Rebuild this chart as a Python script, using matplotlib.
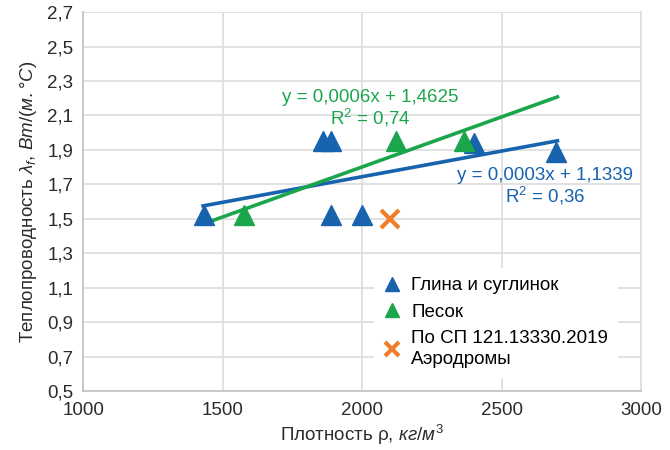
import numpy as np
import matplotlib
matplotlib.use("Agg")
import matplotlib.pyplot as plt

plt.rcParams['font.family'] = ['Liberation Sans', 'DejaVu Sans']
plt.rcParams['mathtext.fontset'] = 'custom'
plt.rcParams['mathtext.rm'] = 'Liberation Sans'
plt.rcParams['mathtext.it'] = 'Liberation Sans:italic'

# Данные
glina_x = [1435, 1860, 1890, 1890, 2000, 2400, 2695]
glina_y = [1.52, 1.95, 1.95, 1.52, 1.52, 1.94, 1.89]
pesok_x = [1575, 2120, 2365]
pesok_y = [1.52, 1.95, 1.95]
sp_x = [2100]
sp_y = [1.50]

# Линии тренда (концы, как на рисунке)
trend_glina_x = [1430, 2700]
trend_glina_y = [1.575, 1.953]
trend_pesok_x = [1430, 2700]
trend_pesok_y = [1.47, 2.208]

c_blue = '#1763ae'
c_green = '#1ba64c'
c_orange = '#f07d2a'
c_text = '#2b2b2b'

fig = plt.figure(figsize=(6.7, 4.5), dpi=100)
ax = fig.add_axes([0.124, 0.131, 0.833, 0.842])

ax.plot(trend_glina_x, trend_glina_y, color=c_blue, lw=2.6, zorder=3)
ax.plot(trend_pesok_x, trend_pesok_y, color=c_green, lw=2.6, zorder=3)

ax.plot(glina_x, glina_y, '^', color=c_blue, ms=14, ls='none', label='Глина и суглинок', zorder=4)
ax.plot(pesok_x, pesok_y, '^', color=c_green, ms=14, ls='none', label='Песок', zorder=4)
ax.plot(sp_x, sp_y, 'x', color=c_orange, ms=13, mew=3, ls='none',
        label='По СП 121.13330.2019\nАэродромы', zorder=4)

ax.text(2029, 2.135, 'y = 0,0006x + 1,4625\nR$^2$ = 0,74', color=c_green, fontsize=13.5,
        ha='center', va='center', linespacing=1.05)
ax.text(2656, 1.685, 'y = 0,0003x + 1,1339\nR$^2$ = 0,36', color=c_blue, fontsize=13.5,
        ha='center', va='center', linespacing=1.05)

ax.set_xlim(1000, 3000)
ax.set_ylim(0.5, 2.7)
xt = [1000, 1500, 2000, 2500, 3000]
yt = np.arange(0.5, 2.71, 0.2)
ax.set_xticks(xt)
ax.set_yticks(yt)
ax.set_xticklabels([str(v) for v in xt])
ax.set_yticklabels([('%.1f' % v).replace('.', ',') for v in yt])
ax.tick_params(length=0, labelsize=13.5, colors=c_text)
ax.tick_params(axis='y', pad=7)
ax.tick_params(axis='x', pad=8)
ax.grid(True, color='#dedede', lw=1.3)
ax.set_axisbelow(True)
ax.spines['top'].set_visible(False)
ax.spines['right'].set_color('#dedede')
ax.spines['right'].set_linewidth(1.3)
for s in ['left', 'bottom']:
    ax.spines[s].set_color('#c4c4c4')
    ax.spines[s].set_linewidth(1.3)

ax.set_xlabel('Плотность ρ, $\\mathit{кг/м^3}$', fontsize=13.5, color=c_text, labelpad=3)
ax.set_ylabel('Теплопроводность $\\lambda_f$, $\\mathit{Вт/(м.°С)}$', fontsize=13.5,
              color=c_text, labelpad=6)

leg = ax.legend(loc='upper left', bbox_to_anchor=(0.521, 0.325), frameon=True,
                fontsize=13.5, markerscale=0.75, handlelength=0.9, handletextpad=0.6,
                labelspacing=0.5, borderaxespad=0, borderpad=0.5)
leg.get_frame().set_edgecolor('none')
leg.get_frame().set_facecolor('white')
leg.get_frame().set_alpha(1)
leg.set_zorder(5)
for t in leg.get_texts():
    t.set_linespacing(1.3)

plt.savefig('out.png', dpi=100)
